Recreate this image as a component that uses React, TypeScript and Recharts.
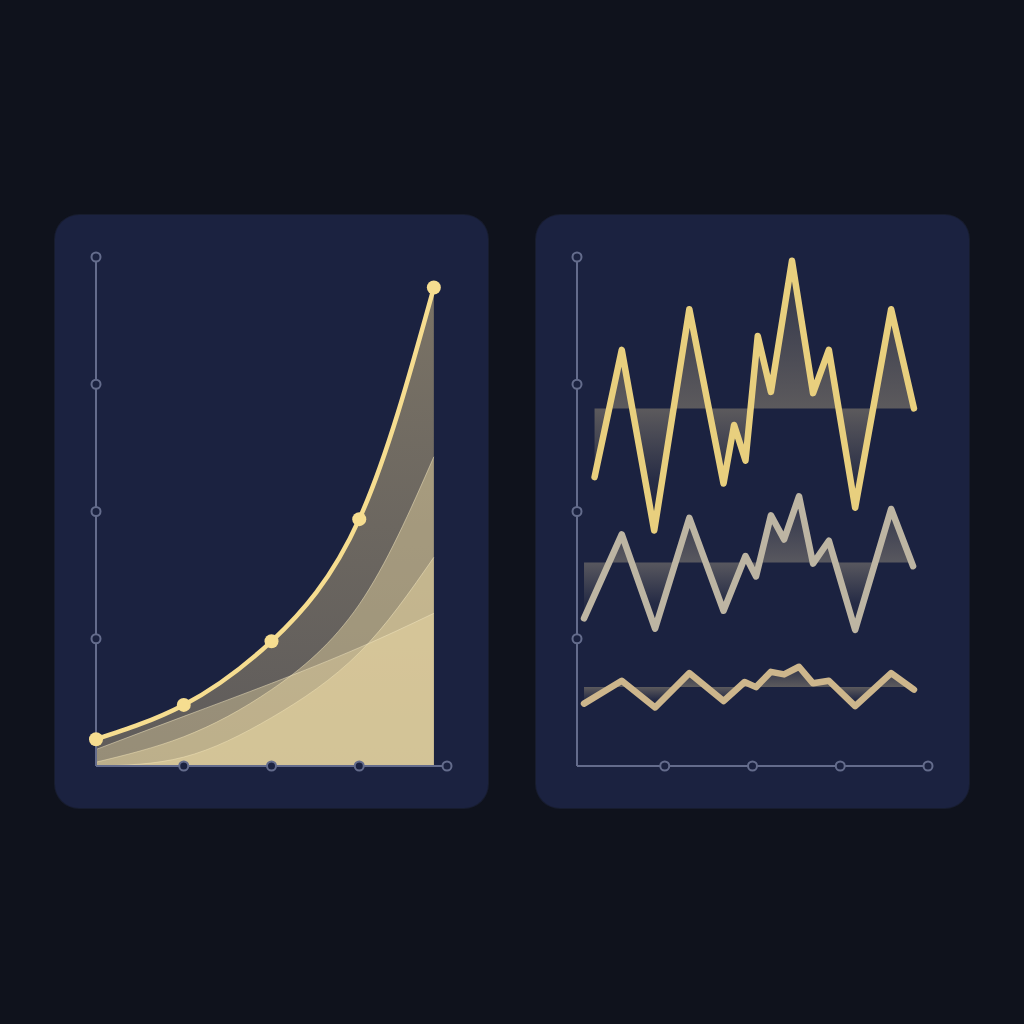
import { Area, ComposedChart, Line, XAxis, YAxis } from 'recharts';

const BG = '#0f121c';
const PANEL = '#1b2240';
const AXIS = '#646c8c';

// left panel: growth curves
const growthX = [0, 1, 2, 3, 3.85];
const growthMain = [0.21, 0.48, 0.98, 1.94, 3.76];
const growthA = [0.03, 0.23, 0.6, 1.27, 2.43];
const growthB = [0, 0.07, 0.38, 0.89, 1.64];
const growthC = [0.13, 0.39, 0.65, 0.93, 1.2];

const axisTicks = [1, 2, 3, 4];

// right panel: three oscillating series around their own baselines
const topX = [0.2, 0.51, 0.88, 1.28, 1.67, 1.79, 1.92, 2.06, 2.21, 2.45, 2.69, 2.87, 3.17, 3.58, 3.84];
const topY = [2.27, 3.27, 1.85, 3.59, 2.22, 2.68, 2.4, 3.38, 2.94, 3.97, 2.93, 3.27, 2.03, 3.59, 2.81];
const topBase = 2.81;

const midX = [0.08, 0.51, 0.89, 1.28, 1.67, 1.92, 2.04, 2.21, 2.36, 2.53, 2.69, 2.87, 3.17, 3.58, 3.83];
const midY = [1.16, 1.82, 1.08, 1.95, 1.22, 1.65, 1.49, 1.97, 1.78, 2.12, 1.59, 1.77, 1.07, 2.02, 1.57];
const midBase = 1.6;

const lowX = [0.08, 0.51, 0.89, 1.28, 1.67, 1.91, 2.04, 2.21, 2.36, 2.53, 2.69, 2.87, 3.17, 3.58, 3.84];
const lowY = [0.49, 0.67, 0.46, 0.73, 0.51, 0.66, 0.62, 0.74, 0.72, 0.78, 0.65, 0.67, 0.47, 0.73, 0.6];
const lowBase = 0.62;

const growthData = growthX.map((x, i) => ({
  x,
  main: growthMain[i],
  a: growthA[i],
  b: growthB[i],
  c: growthC[i],
}));

const toRows = (xs: number[], ys: number[]) => xs.map((x, i) => ({ x, v: ys[i] }));

const baseOffset = (ys: number[], base: number) => {
  const max = Math.max(...ys, base);
  const min = Math.min(...ys, base);
  return (max - base) / (max - min);
};

const RingTick = (props: any) => {
  const { x, y } = props;
  return <circle cx={x} cy={y} r={4.5} fill={PANEL} stroke={AXIS} strokeWidth={2} />;
};

// axes need a non-zero size to render, so 1px is taken out of the margins
const chartMargin = { top: 42, right: 41, bottom: 41, left: 40 };

const panelStyle = (left: number): React.CSSProperties => ({
  position: 'absolute',
  left,
  top: 215,
  width: 433,
  height: 593,
  borderRadius: 24,
  background: PANEL,
  boxShadow: '0 0 0 1px rgba(40,48,80,0.35)',
});

const series = [
  { id: 'top', xs: topX, ys: topY, base: topBase, line: '#e8cf7e', fill: '#d6c392' },
  { id: 'mid', xs: midX, ys: midY, base: midBase, line: '#bdb5a3', fill: '#cbbc98' },
  { id: 'low', xs: lowX, ys: lowY, base: lowBase, line: '#cdb68c', fill: '#d6c392' },
];

const axisProps = {
  type: 'number' as const,
  domain: [0, 4],
  ticks: axisTicks,
  interval: 0 as const,
  tickSize: 0,
  tickMargin: 0,
  tick: <RingTick />,
  tickLine: false,
  axisLine: { stroke: AXIS, strokeWidth: 2 },
};

export default function App() {
  return (
    <div style={{ position: 'absolute', left: 0, top: 0, width: 1024, height: 1024, background: BG, overflow: 'hidden' }}>
      <div style={panelStyle(55)}>
        <ComposedChart width={433} height={593} data={growthData} margin={chartMargin}>
          <defs>
            <linearGradient id="mainFill" x1="0" y1="0" x2="0" y2="1">
              <stop offset="0%" stopColor="#dcc68c" stopOpacity={0.82} />
              <stop offset="100%" stopColor="#dcc68c" stopOpacity={0.58} />
            </linearGradient>
          </defs>
          <XAxis dataKey="x" height={1} {...axisProps} />
          <YAxis width={1} {...axisProps} />
          <Area type="natural" dataKey="main" stroke="none" fill="url(#mainFill)" isAnimationActive={false} />
          <Area type="natural" dataKey="a" stroke="#f2e6bf" strokeOpacity={0.5} strokeWidth={1} fill="#f2dfa8" fillOpacity={0.42} isAnimationActive={false} />
          <Area type="natural" dataKey="b" stroke="#f2e6bf" strokeOpacity={0.5} strokeWidth={1} fill="#f2dfa8" fillOpacity={0.42} isAnimationActive={false} />
          <Area type="natural" dataKey="c" stroke="#f2e6bf" strokeOpacity={0.5} strokeWidth={1} fill="#f2dfa8" fillOpacity={0.38} isAnimationActive={false} />
          <Line
            type="natural"
            dataKey="main"
            stroke="#f6dd90"
            strokeWidth={4.5}
            dot={{ r: 7, fill: '#f6dd90', stroke: 'none' }}
            isAnimationActive={false}
          />
        </ComposedChart>
      </div>

      <div style={panelStyle(536)}>
        <ComposedChart width={433} height={593} margin={chartMargin}>
          <defs>
            {series.map((s) => {
              const o = baseOffset(s.ys, s.base);
              return (
                <linearGradient key={s.id} id={`band-${s.id}`} x1="0" y1="0" x2="0" y2="1">
                  <stop offset={0} stopColor={s.fill} stopOpacity={0.16} />
                  <stop offset={o} stopColor={s.fill} stopOpacity={0.58} />
                  <stop offset={Math.min(1, o + (1 - o) * 0.6)} stopColor={s.fill} stopOpacity={0.1} />
                  <stop offset={1} stopColor={s.fill} stopOpacity={0.02} />
                </linearGradient>
              );
            })}
          </defs>
          <XAxis dataKey="x" height={1} allowDuplicatedCategory={false} {...axisProps} />
          <YAxis width={1} {...axisProps} />
          {series.map((s) => (
            <Area
              key={s.id}
              data={toRows(s.xs, s.ys)}
              dataKey="v"
              type="linear"
              baseValue={s.base}
              stroke="none"
              fill={`url(#band-${s.id})`}
              isAnimationActive={false}
            />
          ))}
          {series.map((s) => (
            <Line
              key={`l-${s.id}`}
              data={toRows(s.xs, s.ys)}
              dataKey="v"
              type="linear"
              stroke={s.line}
              strokeWidth={6.5}
              strokeLinecap="round"
              strokeLinejoin="round"
              dot={false}
              isAnimationActive={false}
            />
          ))}
        </ComposedChart>
      </div>
    </div>
  );
}
